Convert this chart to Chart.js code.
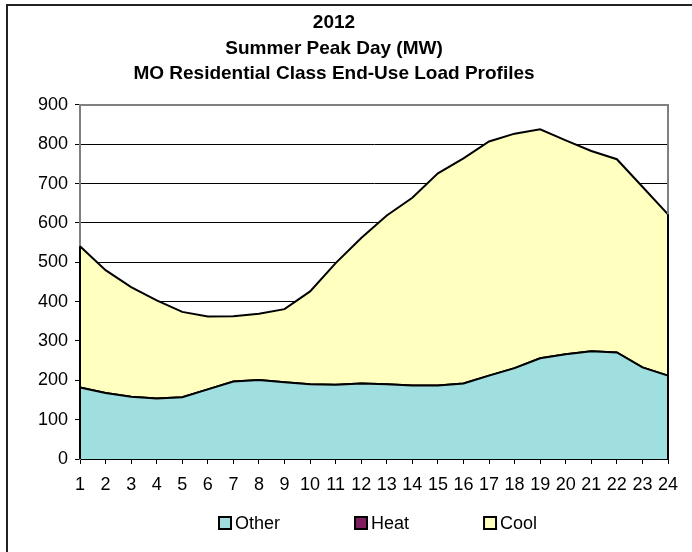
<!DOCTYPE html>
<html>
<head>
<meta charset="utf-8">
<title>MO Residential Class End-Use Load Profiles</title>
<script src="https://cdn.jsdelivr.net/npm/chart.js@4/dist/chart.umd.min.js"></script>
<style>
  html, body { margin: 0; padding: 0; background: #fff; }
  #wrap { position: relative; width: 692px; height: 552px; overflow: hidden; }
</style>
</head>
<body>
<div id="wrap"><canvas id="load-chart" width="692" height="552" role="img" aria-label="Stacked area chart of summer peak day residential end-use load by hour"></canvas></div>
<script>
/* ── data ─────────────────────────────────────────── */
const hours = ['1','2','3','4','5','6','7','8','9','10','11','12','13','14','15','16','17','18','19','20','21','22','23','24'];
const other = [182, 168, 158, 154, 157, 177, 197, 201, 195, 190, 189, 192, 190, 187, 187, 192, 212, 231, 256, 266, 274, 271, 233, 212];
const heat  = [0, 0, 0, 0, 0, 0, 0, 0, 0, 0, 0, 0, 0, 0, 0, 0, 0, 0, 0, 0, 0, 0, 0, 0];
const cool  = [359, 312, 279, 249, 217, 185, 166, 168, 186, 236, 309, 370, 429, 477, 539, 572, 595, 596, 582, 544, 509, 491, 459, 410];
const yTicks = [0, 100, 200, 300, 400, 500, 600, 700, 800, 900];
const titleLines = ['2012', 'Summer Peak Day (MW)', 'MO Residential Class End-Use Load Profiles'];

const FONT = "'Liberation Sans', Arial, sans-serif";

// outer frame, plot-area border and the closing edges of the stacked areas
const framePlugin = {
  id: 'frame',
  beforeDraw(chart) {
    const c = chart.ctx;
    c.save();
    c.strokeStyle = '#222';
    c.lineWidth = 2;
    c.strokeRect(7, 5, 800, 800);
    c.restore();
  },
  afterDatasetsDraw(chart) {
    const c = chart.ctx, a = chart.chartArea;
    const x = chart.scales.x, y = chart.scales.y;
    c.save();
    c.strokeStyle = '#808080';
    c.lineWidth = 2;
    c.beginPath();
    c.moveTo(a.left, a.top); c.lineTo(a.right, a.top); c.lineTo(a.right, a.bottom);
    c.stroke();
    // vertical edges of the area series (first and last hour)
    c.strokeStyle = '#000';
    [0, hours.length - 1].forEach(i => {
      const top = other[i] + heat[i] + cool[i];
      const px = x.getPixelForValue(i);
      c.beginPath();
      c.moveTo(px, y.getPixelForValue(top));
      c.lineTo(px, y.getPixelForValue(0));
      c.stroke();
    });
    c.restore();
  },
  afterDraw(chart) {
    // legend row under the axis
    const c = chart.ctx;
    const items = chart.data.datasets.map(d => ({ text: d.label, fill: d.backgroundColor }));
    c.save();
    c.font = '18px ' + FONT;
    c.textBaseline = 'middle';
    let lx = 219;
    const ly = 523;
    items.forEach(it => {
      c.fillStyle = it.fill;
      c.fillRect(lx, ly - 6, 12, 12);
      c.strokeStyle = '#000';
      c.lineWidth = 2;
      c.strokeRect(lx, ly - 6, 12, 12);
      c.fillStyle = '#000';
      c.fillText(it.text, lx + 16, ly + 1);
      lx += 16 + c.measureText(it.text).width + 75;
    });
    c.restore();
  }
};

const areaStyle = { borderColor: '#000', borderWidth: 2, pointRadius: 0, tension: 0, borderJoinStyle: 'miter' };

new Chart(document.getElementById('load-chart'), {
  type: 'line',
  data: {
    labels: hours,
    datasets: [
      { label: 'Other', data: other, backgroundColor: '#A0DFE0', fill: 'origin', ...areaStyle },
      { label: 'Heat',  data: heat,  backgroundColor: '#7F1F5F', fill: '-1', ...areaStyle },
      { label: 'Cool',  data: cool,  backgroundColor: '#FFFFC0', fill: '-1', ...areaStyle }
    ]
  },
  options: {
    responsive: false,
    animation: false,
    devicePixelRatio: 1,
    layout: { padding: { left: 0, right: 24, top: 0, bottom: 53 } },
    plugins: {
      legend: { display: false },
      tooltip: { enabled: false },
      title: {
        display: true,
        text: titleLines,
        color: '#000',
        font: { family: FONT, size: 19, weight: 'bold', lineHeight: 1.35 },
        padding: { top: 10, bottom: 18 }
      }
    },
    scales: {
      x: {
        offset: false,
        afterFit: s => { s.height = 40; },
        grid: { drawOnChartArea: false, drawTicks: true, tickLength: 5, tickColor: '#000', tickWidth: 1 },
        border: { color: '#000', width: 2 },
        ticks: { color: '#000', font: { family: FONT, size: 18 }, padding: 10, maxRotation: 0, autoSkip: false }
      },
      y: {
        stacked: true,
        min: 0,
        max: 900,
        afterFit: s => { s.width = 80; },
        afterBuildTicks: s => { s.ticks = yTicks.map(v => ({ value: v })); },
        grid: {
          color: ctx => (ctx.tick && ctx.tick.value === 900) ? '#808080' : '#000',
          lineWidth: 1, drawTicks: true, tickLength: 5, tickColor: '#000', tickWidth: 1
        },
        border: { color: '#808080', width: 2 },
        ticks: { color: '#000', font: { family: FONT, size: 18 }, padding: 7 }
      }
    }
  },
  plugins: [framePlugin]
});
</script>
</body>
</html>
